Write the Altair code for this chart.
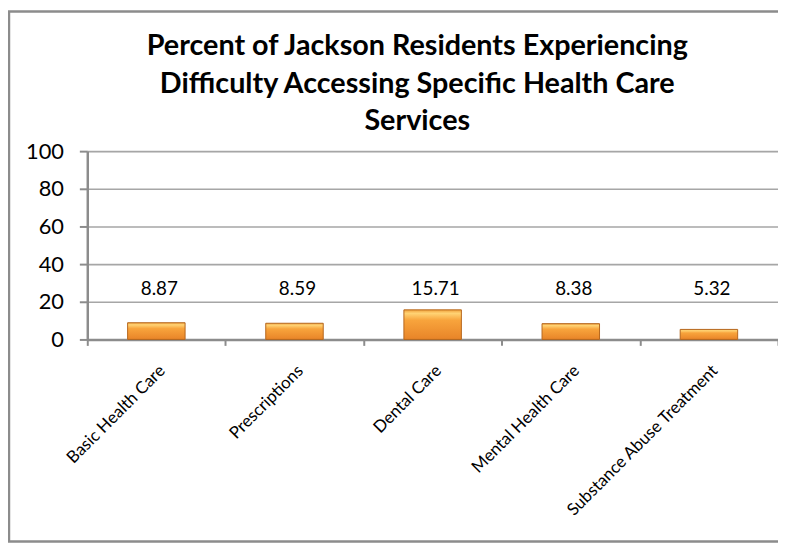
import altair as alt
import pandas as pd

categories = ["Basic Health Care", "Prescriptions", "Dental Care", "Mental Health Care", "Substance Abuse Treatment"]
values = [8.87, 8.59, 15.71, 8.38, 5.32]
value_labels = ["8.87", "8.59", "15.71", "8.38", "5.32"]
y_ticks = [0, 20, 40, 60, 80, 100]
title_lines = ["Percent of Jackson Residents Experiencing", "Difficulty Accessing Specific Health Care", "Services"]

df = pd.DataFrame({"category": categories, "value": values, "label": value_labels})

W, H = 697, 190

x_enc = alt.X("category:N", sort=categories, title=None,
              scale=alt.Scale(paddingInner=0, paddingOuter=0),
              axis=alt.Axis(labelAngle=-45, labelAlign="right", labelBaseline="top",
                            labelPadding=17, labelOffset=0, labelFontSize=17, labelFont="Lato",
                            labelColor="#000000", tickBand="extent", tickSize=6,
                            tickColor="#8c8c8c", tickWidth=2, domainColor="#8c8c8c",
                            domainWidth=2.5, labelLimit=300))
y_enc = alt.Y("value:Q", title=None,
              scale=alt.Scale(domain=[0, 100], nice=False),
              axis=alt.Axis(values=y_ticks, labelFontSize=22, labelFont="Lato",
                            labelColor="#000000", labelPadding=16, tickSize=8,
                            tickColor="#8c8c8c", tickWidth=2, domainColor="#8c8c8c",
                            domainWidth=2.5, gridColor="#a6a6a6", gridWidth=1.6))

grad = alt.LinearGradient(gradient="linear", x1=0, y1=0, x2=0, y2=1,
                          stops=[alt.GradientStop(offset=0, color="#f0a03a"),
                                 alt.GradientStop(offset=0.12, color="#ffd374"),
                                 alt.GradientStop(offset=0.35, color="#f8a43c"),
                                 alt.GradientStop(offset=1, color="#e88428")])

bars = alt.Chart(df).mark_bar(size=58, color=grad, stroke="#b5661c", strokeWidth=1).encode(
    x=x_enc, y=y_enc)

texts = alt.Chart(df).mark_text(fontSize=19, font="Lato", color="#000000", dx=3,
                                baseline="alphabetic").encode(
    x=alt.X("category:N", sort=categories),
    y=alt.value(145),
    text="label:N")

border = alt.Chart(pd.DataFrame({"k": [0]})).mark_rect(
    fill=None, stroke="#8c8c8c", strokeWidth=2.5, clip=False).encode(
    x=alt.value(-79), x2=alt.value(W + 10), y=alt.value(-141), y2=alt.value(394))

title_layers = []
for i, line in enumerate(title_lines):
    title_layers.append(
        alt.Chart(pd.DataFrame({"t": [line]})).mark_text(
            fontSize=29, font="Lato", fontWeight="bold", color="#000000",
            align="center", baseline="alphabetic").encode(
            x=alt.value(333), y=alt.value(-97 + 38 * i), text="t:N"))

chart = alt.layer(border, bars, texts, *title_layers).properties(
    width=W, height=H,
    autosize=alt.AutoSizeParams(type="none"),
    padding={"left": 80, "top": 142, "right": 0, "bottom": 206},
).configure_view(stroke=None).configure(background="white")

chart.save("out.html", embed_options={"renderer": "svg", "actions": False})
